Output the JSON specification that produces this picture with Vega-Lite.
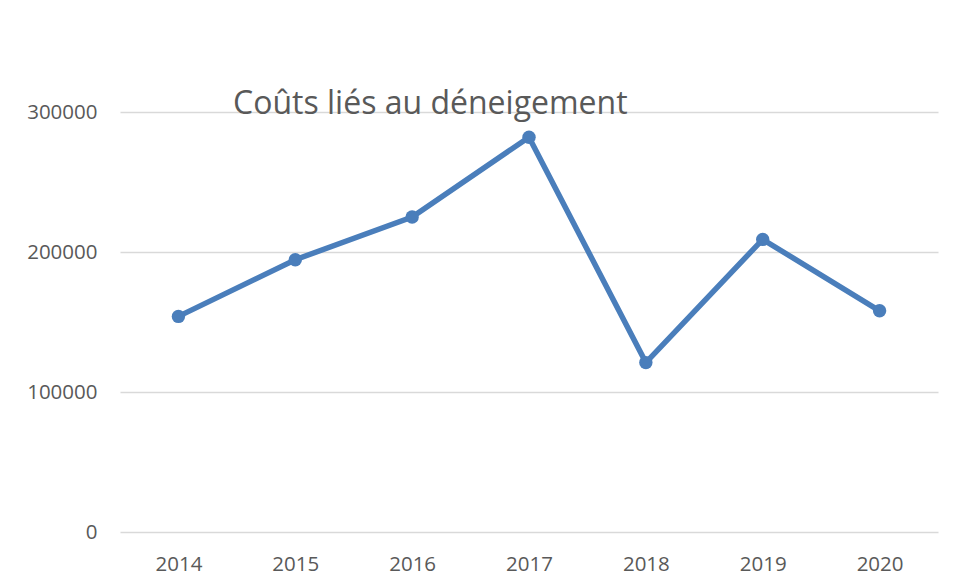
{
  "$schema": "https://vega.github.io/schema/vega-lite/v6.json",
  "width": 818,
  "height": 420,
  "autosize": {"type": "none"},
  "padding": {"left": 120, "top": 112, "right": 16, "bottom": 54},
  "background": "white",
  "title": {
    "text": "Coûts liés au déneigement",
    "anchor": "start",
    "frame": "group",
    "dx": 113,
    "dy": 41,
    "baseline": "alphabetic",
    "offset": -3,
    "font": "Open Sans",
    "fontSize": 32,
    "fontWeight": "normal",
    "color": "#595959"
  },
  "data": {
    "values": [
      {"year": "2014", "cost": 154000},
      {"year": "2015", "cost": 194500},
      {"year": "2016", "cost": 225000},
      {"year": "2017", "cost": 282000},
      {"year": "2018", "cost": 121000},
      {"year": "2019", "cost": 209000},
      {"year": "2020", "cost": 158000}
    ]
  },
  "mark": {"type": "line", "color": "#4a7ebb", "strokeWidth": 5.5, "point": {"filled": true, "size": 180, "color": "#4a7ebb", "opacity": 1}},
  "encoding": {
    "x": {
      "field": "year",
      "type": "ordinal",
      "title": null,
      "axis": {"labelAngle": 0, "domain": false, "ticks": false, "grid": false, "labelPadding": 22, "labelFont": "Open Sans", "labelFontSize": 20.5, "labelColor": "#595959"}
    },
    "y": {
      "field": "cost",
      "type": "quantitative",
      "title": null,
      "scale": {"domain": [0, 300000], "nice": false},
      "axis": {"values": [0, 100000, 200000, 300000], "format": "d", "domain": false, "ticks": false, "labelPadding": 23, "labelFont": "Open Sans", "labelFontSize": 20.5, "labelColor": "#595959", "gridColor": "#d9d9d9", "gridWidth": 1.5}
    }
  },
  "config": {"view": {"stroke": null}}
}
